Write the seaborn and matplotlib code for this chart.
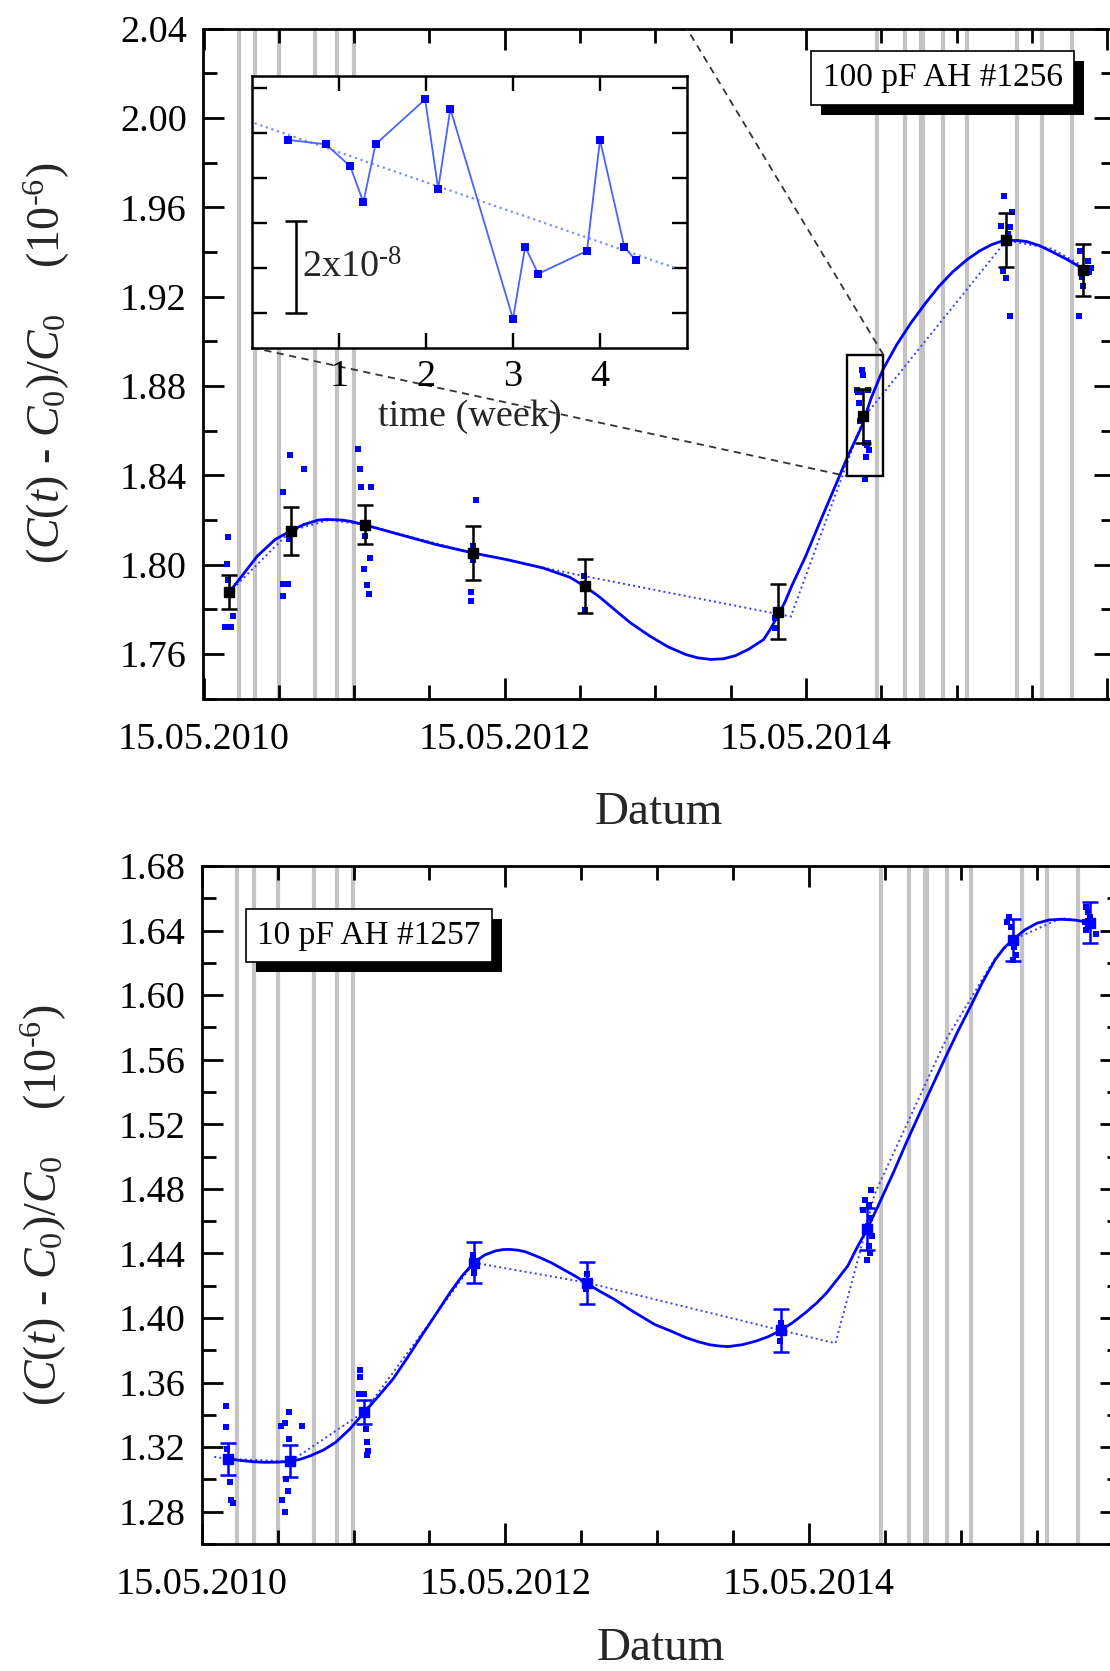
import numpy as np
import pandas as pd
import matplotlib
matplotlib.use("Agg")
import matplotlib.pyplot as plt
import matplotlib.transforms as mtrans
from matplotlib.patches import Rectangle
from matplotlib.ticker import FixedLocator, MultipleLocator, FormatStrFormatter, NullFormatter
import seaborn as sns

# ---------------- data (decimal years, values in 1e-6) ----------------
x_major_ticks = [2010.367, 2012.367, 2014.367, 2016.367]
x_major_labels = ["15.05.2010", "15.05.2012", "15.05.2014", ""]
x_minor_ticks = [2010.867, 2011.367, 2011.867, 2012.867, 2013.367, 2013.867,
                 2014.867, 2015.367, 2015.867]

grey_lines = [2010.600, 2010.710, 2010.868, 2011.107, 2011.256, 2011.366,
              2014.842, 2015.024, 2015.128, 2015.145, 2015.279, 2015.437,
              2015.770, 2015.932, 2016.136]

# --- top panel: 100 pF AH #1256
top_mean_x = [2010.538, 2010.949, 2011.437, 2012.156, 2012.898, 2014.181, 2014.748, 2015.698, 2016.210]
top_mean_y = [1.7876, 1.8152, 1.8178, 1.8052, 1.7903, 1.7788, 1.8664, 1.9452, 1.9320]
top_err = [0.0076, 0.0107, 0.0087, 0.0120, 0.0120, 0.0123, 0.0121, 0.0121, 0.0117]

top_dots_x = [2010.529, 2010.522, 2010.529, 2010.562, 2010.510, 2010.552,
              2010.944, 2011.032, 2010.894, 2010.932, 2010.896, 2010.929, 2010.894,
              2011.392, 2011.406, 2011.411, 2011.482, 2011.470, 2011.430, 2011.453, 2011.463, 2011.440,
              2012.174, 2012.158, 2012.158, 2012.141, 2012.146,
              2012.893, 2012.898,
              2014.160, 2014.165,
              2014.708, 2014.716, 2014.722, 2014.725, 2014.727, 2014.738, 2014.741, 2014.744,
              2014.758, 2014.760, 2014.763, 2014.774, 2014.777, 2014.782, 2014.785,
              2015.682, 2015.735, 2015.665, 2015.721, 2015.712, 2015.674, 2015.693, 2015.721,
              2016.190, 2016.241, 2016.257, 2016.199, 2016.206, 2016.178, 2016.245]
top_dots_y = [1.8124, 1.8003, 1.7933, 1.7769, 1.7719, 1.7719,
              1.8491, 1.8428, 1.8324, 1.8115, 1.7913, 1.7913, 1.7861,
              1.8519, 1.8428, 1.8349, 1.8349, 1.8028, 1.7978, 1.7907, 1.7869, 1.8130,
              1.8290, 1.8082, 1.8022, 1.7878, 1.7836,
              1.7948, 1.7796,
              1.7716, 1.7760,
              1.8782, 1.8772, 1.8723, 1.8643, 1.8772, 1.8872, 1.8673, 1.8851,
              1.8384, 1.8544, 1.8484, 1.8535, 1.8782, 1.8544, 1.8514,
              1.9653, 1.9580, 1.9518, 1.9510, 1.9483, 1.9313, 1.9283, 1.9112,
              1.9403, 1.9360, 1.9330, 1.9290, 1.9250, 1.9112, 1.9310]

top_curve_x = [2010.538, 2010.629, 2010.723, 2010.842, 2010.949, 2011.032, 2011.127, 2011.180,
               2011.233, 2011.290, 2011.340, 2011.437, 2011.672, 2011.909, 2012.156, 2012.383,
               2012.620, 2012.800, 2012.898, 2013.000, 2013.095, 2013.200, 2013.332, 2013.450,
               2013.569, 2013.650, 2013.736, 2013.820, 2013.900, 2013.990, 2014.086, 2014.130,
               2014.179, 2014.230, 2014.272, 2014.365, 2014.458, 2014.552, 2014.645, 2014.738,
               2014.800, 2014.878, 2014.970, 2015.064, 2015.160, 2015.250, 2015.340, 2015.437,
               2015.520, 2015.600, 2015.650, 2015.698, 2015.770, 2015.833, 2015.920, 2015.996,
               2016.100, 2016.210]
top_curve_y = [1.7876, 1.7955, 1.8037, 1.8112, 1.8152, 1.8179, 1.8199, 1.8202,
               1.8201, 1.8199, 1.8194, 1.8178, 1.8134, 1.8090, 1.8052, 1.8022,
               1.7985, 1.7943, 1.7903, 1.7853, 1.7799, 1.7740, 1.7679, 1.7632,
               1.7597, 1.7582, 1.7575, 1.7578, 1.7592, 1.7622, 1.7664, 1.7710,
               1.7769, 1.7835, 1.7903, 1.8037, 1.8187, 1.8336, 1.8485, 1.8619,
               1.8745, 1.8873, 1.8985, 1.9082, 1.9170, 1.9246, 1.9310, 1.9366,
               1.9405, 1.9433, 1.9445, 1.9452, 1.9452, 1.9447, 1.9428, 1.9403,
               1.9367, 1.9324]

top_dot_line_x = [2010.538, 2010.949, 2011.200, 2011.437, 2012.156, 2012.898, 2014.267,
                  2014.752, 2015.698, 2016.000, 2016.210]
top_dot_line_y = [1.7876, 1.8152, 1.8200, 1.8178, 1.8052, 1.7948, 1.7767,
                  1.8660, 1.9452, 1.9415, 1.9335]

zoom_box_x = [2014.642, 2014.881]
zoom_box_y = [1.8396, 1.8940]
connector_low_x = [2010.689, 2014.642]
connector_low_y = [1.8972, 1.8396]
connector_high_x = [2014.881, 2013.578]
connector_high_y = [1.8940, 2.0400]

# --- inset (weeks, units of 1e-8)
inset_week = [0.41, 0.85, 1.13, 1.28, 1.42, 1.99, 2.14, 2.28, 3.00, 3.14, 3.29, 3.85, 4.00, 4.28, 4.41]
inset_val = [3.85, 3.75, 3.26, 2.46, 3.75, 4.75, 2.76, 4.54, -0.13, 1.47, 0.87, 1.38, 3.85, 1.47, 1.17]
inset_trend_week = [0.03, 4.88]
inset_trend_val = [4.22, 0.99]
scale_bar_week = 0.5
scale_bar_center = 1.02
scale_bar_half = 1.02

# --- bottom panel: 10 pF AH #1257
bot_mean_x = [2010.539, 2010.951, 2011.437, 2012.159, 2012.902, 2014.182, 2014.749, 2015.708, 2016.217]
bot_mean_y = [1.3127, 1.3112, 1.3419, 1.4343, 1.4215, 1.3924, 1.4549, 1.6342, 1.6449]
bot_err = [0.0101, 0.0100, 0.0075, 0.0129, 0.0130, 0.0132, 0.0130, 0.0132, 0.0129]

bot_dots_x = [2010.527, 2010.524, 2010.532, 2010.555, 2010.562, 2010.572,
              2010.943, 2010.915, 2010.891, 2011.030, 2010.939, 2010.920, 2010.932, 2010.896, 2010.915,
              2011.409, 2011.407, 2011.402, 2011.433, 2011.449, 2011.452, 2011.461, 2011.457,
              2012.155, 2012.162, 2012.158,
              2012.905, 2012.900,
              2014.185, 2014.178,
              2014.777, 2014.738, 2014.761, 2014.726, 2014.772, 2014.756, 2014.784, 2014.761, 2014.772, 2014.750,
              2015.685, 2015.674, 2015.697, 2015.720, 2015.731, 2015.713,
              2016.194, 2016.206, 2016.217, 2016.183, 2016.240, 2016.194, 2016.258]
bot_dots_y = [1.3456, 1.3326, 1.3188, 1.2986, 1.2875, 1.2854,
              1.3415, 1.3347, 1.3332, 1.3332, 1.3250, 1.3002, 1.2930, 1.2875, 1.2797,
              1.3677, 1.3636, 1.3529, 1.3529, 1.3310, 1.3232, 1.3174, 1.3153,
              1.4390, 1.4310, 1.4280,
              1.4270, 1.4180,
              1.3970, 1.3855,
              1.4792, 1.4734, 1.4703, 1.4672, 1.4620, 1.4569, 1.4507, 1.4445, 1.4404, 1.4357,
              1.6487, 1.6456, 1.6425, 1.6301, 1.6250, 1.6219,
              1.6548, 1.6517, 1.6483, 1.6456, 1.6435, 1.6405, 1.6378]

bot_curve_x = [2010.539, 2010.638, 2010.700, 2010.779, 2010.870, 2010.951, 2011.020, 2011.084,
               2011.170, 2011.249, 2011.340, 2011.437, 2011.530, 2011.626, 2011.720, 2011.814,
               2011.910, 2012.002, 2012.080, 2012.159, 2012.230, 2012.300, 2012.350, 2012.397,
               2012.450, 2012.500, 2012.595, 2012.670, 2012.750, 2012.830, 2012.902, 2012.990,
               2013.084, 2013.200, 2013.350, 2013.460, 2013.555, 2013.640, 2013.715, 2013.780,
               2013.836, 2013.930, 2014.021, 2014.100, 2014.182, 2014.260, 2014.345, 2014.420,
               2014.484, 2014.550, 2014.622, 2014.680, 2014.749, 2014.830, 2014.922, 2015.010,
               2015.107, 2015.190, 2015.269, 2015.350, 2015.431, 2015.510, 2015.593, 2015.650,
               2015.708, 2015.790, 2015.870, 2015.950, 2016.032, 2016.120, 2016.217]
bot_curve_y = [1.3127, 1.3116, 1.3110, 1.3106, 1.3107, 1.3112, 1.3126, 1.3147,
               1.3183, 1.3230, 1.3310, 1.3415, 1.3515, 1.3621, 1.3752, 1.3889,
               1.4025, 1.4157, 1.4258, 1.4343, 1.4390, 1.4415, 1.4424, 1.4425,
               1.4420, 1.4410, 1.4374, 1.4342, 1.4300, 1.4258, 1.4215, 1.4165,
               1.4116, 1.4045, 1.3960, 1.3918, 1.3879, 1.3852, 1.3834, 1.3826,
               1.3823, 1.3835, 1.3858, 1.3885, 1.3924, 1.3972, 1.4034, 1.4095,
               1.4157, 1.4235, 1.4322, 1.4430, 1.4549, 1.4710, 1.4899, 1.5090,
               1.5291, 1.5460, 1.5621, 1.5780, 1.5930, 1.6080, 1.6219, 1.6290,
               1.6342, 1.6405, 1.6446, 1.6466, 1.6470, 1.6465, 1.6449]

bot_dot_line_x = [2010.449, 2010.539, 2010.951, 2011.437, 2012.159, 2012.902, 2014.182, 2014.541,
                  2014.700, 2014.800, 2015.269, 2015.600, 2015.708, 2016.030, 2016.217]
bot_dot_line_y = [1.3140, 1.3127, 1.3112, 1.3419, 1.4343, 1.4219, 1.3924, 1.3844,
                  1.4400, 1.4770, 1.5724, 1.6239, 1.6342, 1.6478, 1.6449]

# ---------------- styling ----------------
sns.set_theme(style="ticks")
plt.rcParams["font.family"] = ["Liberation Serif", "DejaVu Serif"]
plt.rcParams["mathtext.fontset"] = "custom"
plt.rcParams["mathtext.rm"] = "Liberation Serif"
plt.rcParams["mathtext.it"] = "Liberation Serif:italic"
plt.rcParams["mathtext.bf"] = "Liberation Serif:bold"

W, H = 1110, 1671
fig = plt.figure(figsize=(W / 100, H / 100), dpi=100)
fig.patch.set_facecolor("white")

XMIN, XMAX = 2010.367, 2016.42
TICK_FS = 27.5
LABEL_FS = 33


def px_axes(left, top, right, bottom):
    return [left / W, 1 - bottom / H, (right - left) / W, (bottom - top) / H]


ax1 = fig.add_axes(px_axes(203.5, 28.8, 203.5 + (XMAX - XMIN) * 150.6, 698.5))
ax2 = fig.add_axes(px_axes(201.8, 866, 201.8 + (XMAX - XMIN) * 151.8, 1544))

ylabel = r"$(C(t)$ - $C_0)/C_0$    (10$^{\text{-}6}$)"


def style_main(ax, ylim, xlabelpad):
    ax.set_facecolor("white")
    ax.set_xlim(XMIN, XMAX)
    ax.set_ylim(*ylim)
    ax.xaxis.set_major_locator(FixedLocator(x_major_ticks))
    ax.set_xticklabels(x_major_labels)
    ax.xaxis.set_minor_locator(FixedLocator(x_minor_ticks))
    ax.yaxis.set_major_locator(MultipleLocator(0.04))
    ax.yaxis.set_minor_locator(MultipleLocator(0.02))
    ax.yaxis.set_major_formatter(FormatStrFormatter("%.2f"))
    ax.tick_params(which="both", direction="in", top=True, right=True,
                   labelsize=TICK_FS, colors="black", width=2.0)
    ax.tick_params(which="major", length=15, pad=12)
    ax.tick_params(axis="x", which="major", pad=17)
    ax.tick_params(which="minor", length=10)
    for sp in ax.spines.values():
        sp.set_visible(True)
        sp.set_linewidth(2.0)
        sp.set_color("black")
    ax.set_xlabel("Datum", fontsize=LABEL_FS + 1, labelpad=xlabelpad)
    ax.set_ylabel(ylabel, fontsize=LABEL_FS)
    ax.yaxis.set_label_coords(-0.144, 0.5)
    for gx in grey_lines:
        ax.axvline(gx, color="#c4c4c4", lw=3.0, zorder=0.5)


style_main(ax1, (1.74, 2.04), 25)
style_main(ax2, (1.26, 1.68), 18)

# ---- top panel marks
sns.lineplot(x=top_dot_line_x, y=top_dot_line_y, ax=ax1, color="#3a3aff", lw=1.4,
             linestyle=":", sort=False, estimator=None, zorder=2)
sns.lineplot(x=top_curve_x, y=top_curve_y, ax=ax1, color="#0000ff", lw=2.0,
             sort=False, estimator=None, zorder=3)
sns.scatterplot(x=top_dots_x, y=top_dots_y, ax=ax1, marker="s", s=16, color="#0000ff",
                linewidth=0, zorder=4)
ax1.errorbar(top_mean_x, top_mean_y, yerr=top_err, fmt="s", color="black", ms=7,
             capsize=6, elinewidth=1.8, capthick=1.8, zorder=5)
ax1.add_patch(Rectangle((zoom_box_x[0], zoom_box_y[0]), zoom_box_x[1] - zoom_box_x[0],
                        zoom_box_y[1] - zoom_box_y[0], fill=False, ec="black", lw=1.7, zorder=6))
ax1.plot(connector_low_x, connector_low_y, color="#333333", lw=1.3, ls=(0, (4, 3)), zorder=6)
ax1.plot(connector_high_x, connector_high_y, color="#333333", lw=1.3, ls=(0, (4, 3)), zorder=6)

# ---- bottom panel marks
sns.lineplot(x=bot_dot_line_x, y=bot_dot_line_y, ax=ax2, color="#3a3aff", lw=1.4,
             linestyle=":", sort=False, estimator=None, zorder=2)
sns.lineplot(x=bot_curve_x, y=bot_curve_y, ax=ax2, color="#0000ff", lw=2.0,
             sort=False, estimator=None, zorder=3)
sns.scatterplot(x=bot_dots_x, y=bot_dots_y, ax=ax2, marker="s", s=16, color="#0000ff",
                linewidth=0, zorder=4)
ax2.errorbar(bot_mean_x, bot_mean_y, yerr=bot_err, fmt="s", color="#0000ff", ms=7,
             capsize=6, elinewidth=1.8, capthick=1.8, zorder=5)

# ---- label boxes (white box + black drop shadow patch)
label_texts = []


def boxed_label(ax, x, y, text):
    t = ax.text(x, y, text, transform=ax.transAxes, fontsize=24, ha="center", va="center",
                color="black",
                bbox=dict(boxstyle="square,pad=0.34", fc="white", ec="black", lw=1.2), zorder=9)
    label_texts.append((ax, t))


boxed_label(ax1, 0.811, 0.9265, "100 pF AH #1256")
boxed_label(ax2, 0.1817, 0.897, "10 pF AH #1257")

# ---- inset
ax_in = fig.add_axes(px_axes(252, 76, 687, 348))
ax_in.set_zorder(5)
ax_in.set_facecolor("white")
sns.lineplot(x=inset_trend_week, y=inset_trend_val, ax=ax_in, color="#7d8dff", lw=1.6,
             linestyle=":", sort=False, estimator=None)
sns.lineplot(x=inset_week, y=inset_val, ax=ax_in, color="#4a62ff", lw=1.3,
             sort=False, estimator=None)
sns.scatterplot(x=inset_week, y=inset_val, ax=ax_in, marker="s", s=28, color="#0000ff",
                linewidth=0, zorder=4)
ax_in.errorbar([scale_bar_week], [scale_bar_center], yerr=[scale_bar_half], fmt="none",
               ecolor="black", capsize=8, elinewidth=1.8, capthick=1.8)
ax_in.text(scale_bar_week + 0.07, scale_bar_center - 0.02, r"2x10$^{\text{-}8}$",
           fontsize=TICK_FS, ha="left", va="center")
ax_in.set_xlim(0, 5)
ax_in.set_ylim(-0.78, 5.27)
ax_in.xaxis.set_major_locator(FixedLocator([1, 2, 3, 4]))
ax_in.yaxis.set_major_locator(FixedLocator([0, 1, 2, 3, 4, 5]))
ax_in.yaxis.set_major_formatter(NullFormatter())
ax_in.tick_params(which="both", direction="in", top=True, right=True, labelsize=TICK_FS,
                  width=1.7, length=11, pad=8, colors="black")
for sp in ax_in.spines.values():
    sp.set_visible(True)
    sp.set_linewidth(1.8)
    sp.set_color("black")
ax_in.set_xlabel("time (week)", fontsize=TICK_FS, labelpad=4)
ax_in.set_ylabel("")

# shadows behind the label boxes
fig.canvas.draw()
for ax, t in label_texts:
    bb = t.get_bbox_patch().get_window_extent()
    ax.add_patch(Rectangle((bb.x0 + 10, bb.y0 - 10), bb.width, bb.height,
                           transform=mtrans.IdentityTransform(), fc="black", ec="black",
                           lw=0, zorder=8, clip_on=False))

fig.savefig("out.png", dpi=100, facecolor="white")
